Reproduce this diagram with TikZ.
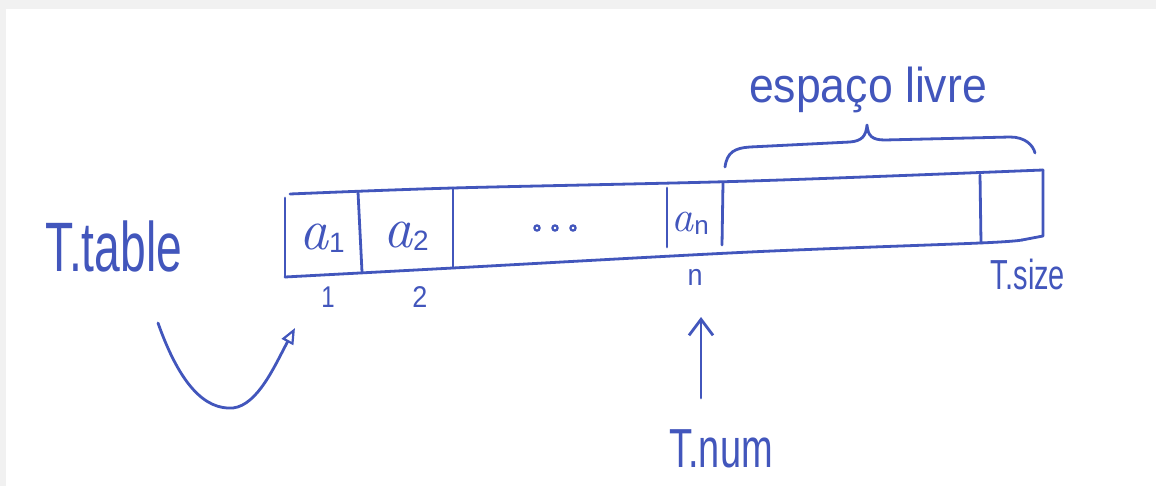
\documentclass[tikz,border=0pt]{standalone}
\usepackage{fontspec}
\setmainfont{Liberation Sans}
\newfontfamily\lmfont{Latin Modern Roman}
\usetikzlibrary{arrows.meta}
\definecolor{ink}{RGB}{66,86,188}
\definecolor{paperedge}{RGB}{241,241,241}
\newcommand{\handtxt}[3]{\scalebox{#1}[1]{\fontsize{#2}{#2}\selectfont #3}}
\newcommand{\cellsym}[3]{{\fontsize{#1}{#1}\lmfont\itshape a}\kern1pt\raisebox{-3pt}{\fontsize{#2}{#2}\selectfont #3}}
\tikzset{
  pen/.style={draw=ink, line width=2.8pt, line cap=round, line join=round},
  hand/.style={text=ink, inner sep=0pt, outer sep=0pt, anchor=base},
}
\begin{document}
\begin{tikzpicture}[x=1pt,y=-1pt]
\fill[paperedge] (0,0) rectangle (1156,486);
\fill[white] (6,9) rectangle (1156,486);
\useasboundingbox (0,0) rectangle (1156,486);

% array outline
\draw[pen] plot[smooth, tension=0.5] coordinates {(290,194) (453,188) (750,181) (1043,170)};
\draw[pen] plot[smooth, tension=0.5] coordinates {(285,277) (453,268) (750,252) (980,243) (1022,240)};
\draw[pen] (1022,240) -- (1043,236) -- (1043,170);
\draw[pen] (285,198) -- (285,277);
\draw[pen] (358,192) -- (362,272);
\draw[pen] (453,188) -- (453,268);
\draw[pen] (667,188) -- (667,247);
\draw[pen] (723,183) -- (722,245);
\draw[pen] (980,175) -- (981,243);

% cell contents
\node[hand] (a1) at (322,250) {\cellsym{58}{28}{1}};
\node[hand] (a2) at (406,248) {\cellsym{58}{28}{2}};
\node[hand] (an) at (690,232) {\cellsym{44}{26}{n}};
\foreach \px in {537,555,573}{\draw[draw=ink, line width=2.2pt] (\px,228) circle (2.6);}

% indices
\node[hand] (i1) at (328,307) {\handtxt{0.8}{30}{1}};
\node[hand] (i2) at (420,307) {\handtxt{0.9}{30}{2}};
\node[hand] (in) at (695,286) {\handtxt{0.9}{30}{n}};
\node[hand] (tsize) at (1028,290) {\handtxt{0.69}{42}{T.size}};

% brace and label
\draw[pen] (725,167) .. controls (727,152) and (735,148) .. (750,147)
  -- (850,142) .. controls (862,141) and (866,136) .. (867,125)
  .. controls (868,136) and (872,140) .. (885,140)
  -- (1010,137) .. controls (1025,137) and (1033,145) .. (1035,153);
\node[hand] (livre) at (868,103) {\handtxt{0.91}{49}{espaço livre}};

% T.table and curved arrow
\node[hand] (ttable) at (114,272) {\handtxt{0.66}{70}{T.table}};
\coordinate (cstart) at (158,323);
\coordinate (ctip) at (295,328);
\draw[pen, -{Triangle[open, length=16pt, width=13pt, line width=2.2pt]}]
  (cstart) .. controls (180,385) and (205,410) .. (233,408)
  .. controls (258,405) and (275,365) .. (ctip);

% T.num and arrow
\node[hand] (tnum) at (721,467) {\handtxt{0.69}{55}{T.num}};
\coordinate (nstart) at (701,398);
\coordinate (ntip) at (701,317);
\draw[pen, -{Straight Barb[length=16pt, width=24pt]}] (nstart) -- (ntip);
\end{tikzpicture}
\end{document}
